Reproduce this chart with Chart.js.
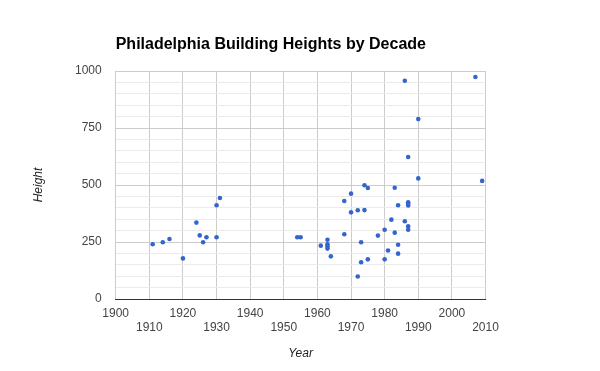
<!DOCTYPE html>
<html>
<head>
<meta charset="utf-8">
<script src="https://cdn.jsdelivr.net/npm/chart.js@4/dist/chart.umd.min.js"></script>
<style>
  html, body { margin: 0; padding: 0; background: #fff; }
  #wrap { width: 600px; height: 371px; position: relative; }
</style>
</head>
<body>
<div id="wrap"><canvas id="c" width="600" height="371"></canvas></div>
<script>
const chartTitle = 'Philadelphia Building Heights by Decade';
const xAxisTitle = 'Year';
const yAxisTitle = 'Height';

const years = [
  1911, 1914, 1916, 1920, 1924, 1925, 1926, 1927, 1930, 1930, 1931,
  1954, 1955, 1961, 1963, 1963, 1963, 1963, 1964, 1968, 1968,
  1970, 1970, 1972, 1972, 1973, 1973, 1974, 1974, 1975, 1975,
  1978, 1980, 1980, 1981, 1982, 1983, 1983, 1984, 1984, 1984,
  1986, 1986, 1987, 1987, 1987, 1987, 1987, 1987, 1990, 1990,
  2007, 2009
];
const heights = [
  240, 249, 263, 178, 335, 279, 249, 271, 271, 411, 443,
  271, 271, 234, 260, 240, 231, 221, 187, 284, 430,
  462, 380, 389, 99, 249, 161, 499, 390, 487, 174,
  278, 304, 174, 213, 348, 488, 291, 411, 238, 199,
  957, 341, 623, 424, 418, 410, 319, 304, 789, 529,
  974, 518
];

const xMin = 1900, xMax = 2010, xStep = 10;
const yMin = 0, yMax = 1000, yStep = 50, yLabelStep = 250;

const FONT = 'Arial, "Liberation Sans", sans-serif';

const points = years.map((y, i) => ({ x: y, y: heights[i] }));

const textPlugin = {
  id: 'texts',
  afterDraw(chart) {
    const ctx = chart.ctx;
    const ca = chart.chartArea;
    ctx.save();
    ctx.fillStyle = '#000';
    ctx.font = 'bold 16px ' + FONT;
    ctx.textAlign = 'left';
    ctx.textBaseline = 'alphabetic';
    ctx.fillText(chartTitle, ca.left, 49);

    ctx.fillStyle = '#222';
    ctx.font = 'italic 12px ' + FONT;
    ctx.textAlign = 'center';
    ctx.fillText(xAxisTitle, (ca.left + ca.right) / 2, 357);

    ctx.translate(42, (ca.top + ca.bottom) / 2);
    ctx.rotate(-Math.PI / 2);
    ctx.fillText(yAxisTitle, 0, 0);
    ctx.restore();
  }
};

new Chart(document.getElementById('c'), {
  type: 'scatter',
  data: {
    datasets: [{
      data: points,
      backgroundColor: '#3366CC',
      borderColor: '#3366CC',
      pointRadius: 2.3,
      pointBorderWidth: 0,
      pointHoverRadius: 2.3
    }]
  },
  options: {
    responsive: false,
    animation: false,
    events: [],
    layout: { padding: { left: 0, top: 71, right: 114.5, bottom: 0 } },
    plugins: {
      legend: { display: false },
      title: { display: false },
      tooltip: { enabled: false }
    },
    scales: {
      x: {
        type: 'linear',
        position: 'bottom',
        min: xMin, max: xMax,
        z: -1,
        afterFit(scale) { scale.height = 72; },
        ticks: {
          stepSize: xStep,
          autoSkip: false,
          maxRotation: 0,
          minRotation: 0,
          padding: 7,
          color: '#444',
          font: { family: FONT, size: 12 },
          callback(value, index) {
            return index % 2 === 0 ? [String(value)] : ['', String(value)];
          }
        },
        grid: { color: '#cccccc', lineWidth: 1, drawTicks: false },
        border: { display: true, color: '#333333', width: 1 }
      },
      y: {
        type: 'linear',
        min: yMin, max: yMax,
        z: -2,
        afterFit(scale) { scale.width = 115.7; },
        ticks: {
          stepSize: yStep,
          autoSkip: false,
          padding: 14,
          color: '#444',
          font: { family: FONT, size: 12 },
          callback(value) {
            return value % yLabelStep === 0 ? String(value) : '';
          }
        },
        grid: {
          drawTicks: false,
          lineWidth: 1,
          color(ctx) {
            return ctx.tick && ctx.tick.value % yLabelStep === 0 ? '#cccccc' : '#ebebeb';
          }
        },
        border: { display: false }
      }
    }
  },
  plugins: [textPlugin]
});
</script>
</body>
</html>
